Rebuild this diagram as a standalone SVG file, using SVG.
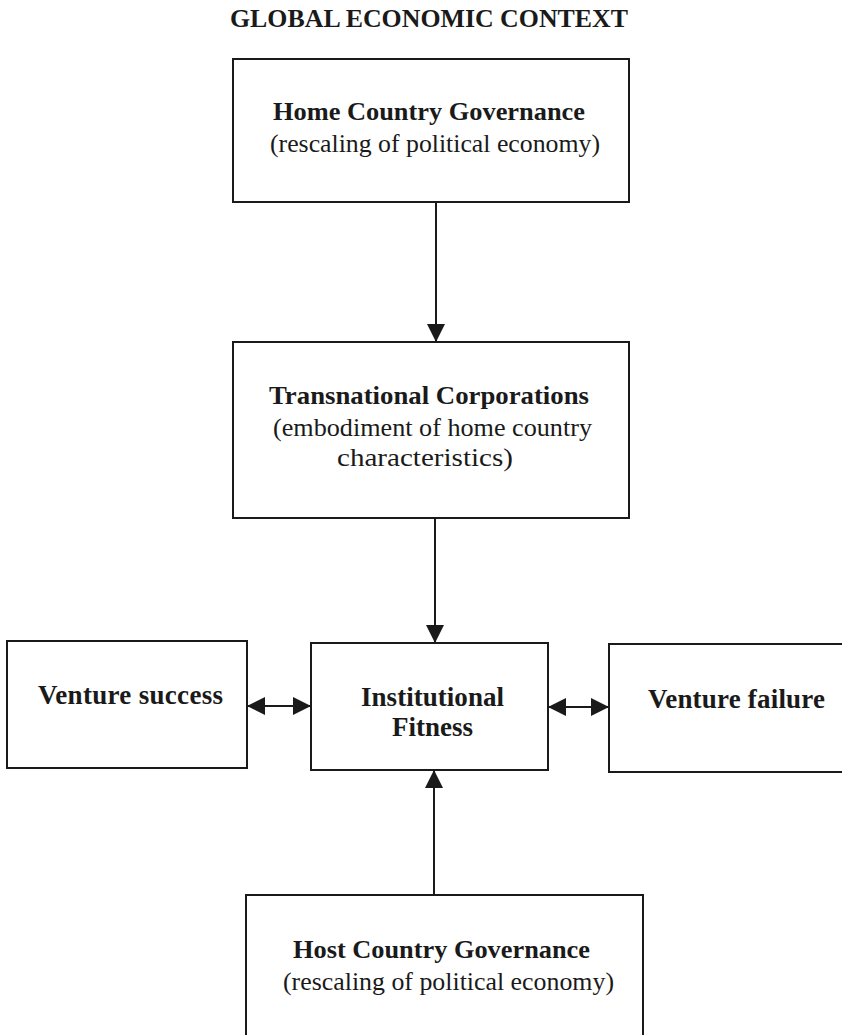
<svg xmlns="http://www.w3.org/2000/svg" width="842" height="1035" viewBox="0 0 842 1035">
  <defs>
    <marker id="ah" viewBox="0 0 18 18" refX="18" refY="9" markerWidth="18" markerHeight="18" markerUnits="userSpaceOnUse" orient="auto-start-reverse">
      <path d="M0,0 L18,9 L0,18 z" fill="#1a1a1a"/>
    </marker>
    <style>
      .box { fill: #ffffff; stroke: #1a1a1a; stroke-width: 2; }
      .conn { fill: none; stroke: #1a1a1a; stroke-width: 2; }
      text { font-family: "Liberation Serif", "Times New Roman", serif; fill: #1a1a1a; text-anchor: middle; }
      .b { font-weight: bold; }
      .t { font-size: 25px; }
      .v { font-size: 27px; font-weight: bold; }
      .title { font-size: 25px; font-weight: bold; }
    </style>
  </defs>
  <rect x="0" y="0" width="842" height="1035" fill="#ffffff"/>

  <text id="title" class="title" x="429" y="27" textLength="398" lengthAdjust="spacingAndGlyphs">GLOBAL ECONOMIC CONTEXT</text>

  <g id="connectors">
    <line class="conn" x1="436" y1="202" x2="436" y2="342" marker-end="url(#ah)"/>
    <line class="conn" x1="435" y1="518" x2="435" y2="643" marker-end="url(#ah)"/>
    <line class="conn" x1="434" y1="895" x2="434" y2="770" marker-end="url(#ah)"/>
    <line class="conn" x1="247" y1="706" x2="311" y2="706" marker-start="url(#ah)" marker-end="url(#ah)"/>
    <line class="conn" x1="548" y1="707" x2="609" y2="707" marker-start="url(#ah)" marker-end="url(#ah)"/>
  </g>

  <g id="home">
    <rect class="box" x="233" y="59" width="396" height="143"/>
    <text class="t b" x="429" y="120" textLength="312" lengthAdjust="spacingAndGlyphs">Home Country Governance</text>
    <text class="t" x="435" y="152" textLength="330" lengthAdjust="spacingAndGlyphs">(rescaling of political economy)</text>
  </g>

  <g id="tnc">
    <rect class="box" x="233" y="342" width="396" height="176"/>
    <text class="t b" x="429" y="404" textLength="320" lengthAdjust="spacingAndGlyphs">Transnational Corporations</text>
    <text class="t" x="432.5" y="436" textLength="319" lengthAdjust="spacingAndGlyphs">(embodiment of home country</text>
    <text class="t" x="425" y="466" textLength="176" lengthAdjust="spacingAndGlyphs">characteristics)</text>
  </g>

  <g id="success">
    <rect class="box" x="7" y="641" width="240" height="127"/>
    <text class="v" x="130.5" y="704" textLength="185" lengthAdjust="spacing">Venture success</text>
  </g>

  <g id="fitness">
    <rect class="box" x="311" y="643" width="237" height="127"/>
    <text class="v" x="432.5" y="706" textLength="143" lengthAdjust="spacing">Institutional</text>
    <text class="v" x="432.5" y="736" textLength="81" lengthAdjust="spacing">Fitness</text>
  </g>

  <g id="failure">
    <rect class="box" x="609" y="644" width="245" height="128"/>
    <text class="v" x="736.5" y="708" textLength="177" lengthAdjust="spacing">Venture failure</text>
  </g>

  <g id="host">
    <rect class="box" x="246" y="895" width="397" height="160"/>
    <text class="t b" x="441.5" y="958" textLength="297" lengthAdjust="spacingAndGlyphs">Host Country Governance</text>
    <text class="t" x="448.5" y="990" textLength="331" lengthAdjust="spacingAndGlyphs">(rescaling of political economy)</text>
  </g>
</svg>
